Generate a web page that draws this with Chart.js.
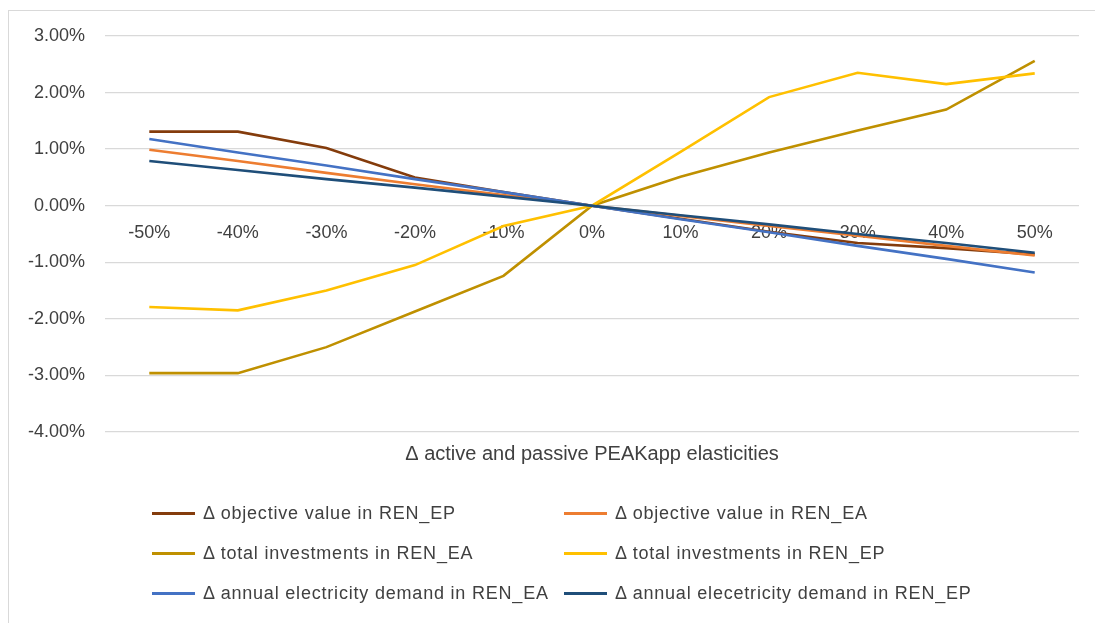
<!DOCTYPE html>
<html>
<head>
<meta charset="utf-8">
<script src="https://cdn.jsdelivr.net/npm/chart.js@4/dist/chart.umd.min.js"></script>
<style>
    body { margin: 0; background: #fff; }
    .wrap { position: relative; width: 1095px; height: 623px; overflow: hidden; background: #fff; }
    .frame { position: absolute; left: 8px; top: 10px; width: 1200px; height: 700px; border: 1px solid #d9d9d9; }
    #chart { position: absolute; left: 0; top: 0; }
    .legend {
        position: absolute; left: 152px; top: 502px;
        display: grid; grid-template-columns: 412px 420px; row-gap: 17px;
        font-family: "Liberation Sans", Arial, sans-serif; font-size: 18px; letter-spacing: 0.8px; color: #404040;
    }
    .legend div { display: flex; align-items: center; height: 23px; white-space: nowrap; }
    .legend span.line { display: inline-block; width: 43px; height: 3px; margin-right: 8px; }
</style>
</head>
<body>
<div class="wrap">
    <div class="frame"></div>
    <canvas id="chart" width="1095" height="623"></canvas>
    <div class="legend" id="legend"></div>
</div>
<script>
// Categories and series (values in %)
const categories = ["-50%", "-40%", "-30%", "-20%", "-10%", "0%", "10%", "20%", "30%", "40%", "50%"];

const objectiveEP = [1.31, 1.31, 1.02, 0.50, 0.24, 0, -0.23, -0.46, -0.66, -0.75, -0.86];
const objectiveEA = [0.99, 0.79, 0.58, 0.38, 0.19, 0, -0.18, -0.36, -0.53, -0.71, -0.88];
const investEA = [-2.96, -2.96, -2.50, -1.87, -1.24, 0, 0.51, 0.94, 1.33, 1.70, 2.56];
const investEP = [-1.79, -1.85, -1.50, -1.05, -0.36, 0, 0.95, 1.92, 2.35, 2.15, 2.34];
const demandEA = [1.18, 0.94, 0.71, 0.47, 0.24, 0, -0.24, -0.47, -0.71, -0.94, -1.18];
const demandEP = [0.79, 0.63, 0.47, 0.32, 0.16, 0, -0.17, -0.33, -0.50, -0.66, -0.83];

const yTicks = [3, 2, 1, 0, -1, -2, -3, -4];

const series = [
    { label: "Δ objective value in REN_EP", data: objectiveEP, color: "#843C0C" },
    { label: "Δ objective value in REN_EA", data: objectiveEA, color: "#ED7D31" },
    { label: "Δ total investments in REN_EA", data: investEA, color: "#BF9000" },
    { label: "Δ total investments in REN_EP", data: investEP, color: "#FFC000" },
    { label: "Δ annual electricity demand in REN_EA", data: demandEA, color: "#4472C4" },
    { label: "Δ annual elecetricity demand in REN_EP", data: demandEP, color: "#1F4E79" }
];

const font = "'Liberation Sans', Arial, sans-serif";
const textColor = "#404040";

const ctx = document.getElementById("chart");

new Chart(ctx, {
    type: "line",
    data: {
        labels: categories,
        datasets: series.map((s, i) => ({
            label: s.label,
            data: s.data,
            borderColor: s.color,
            backgroundColor: s.color,
            borderWidth: 2.6,
            pointRadius: 0,
            tension: 0,
            // first series drawn underneath, like Excel
            order: series.length - i
        }))
    },
    options: {
        responsive: false,
        animation: false,
        layout: {
            padding: { left: 8, top: 36, right: 16, bottom: 153 }
        },
        plugins: {
            legend: { display: false },
            tooltip: { enabled: false }
        },
        scales: {
            x: {
                type: "category",
                offset: true,
                position: { y: 0 },
                grid: { display: false },
                border: { display: false },
                ticks: {
                    padding: 9,
                    color: textColor,
                    font: { family: font, size: 18 },
                    maxRotation: 0
                }
            },
            x2: {
                type: "category",
                labels: categories,
                offset: true,
                position: "bottom",
                grid: { display: false },
                border: { display: false },
                ticks: { display: false },
                title: {
                    display: true,
                    text: "Δ active and passive PEAKapp elasticities",
                    color: textColor,
                    font: { family: font, size: 20 },
                    padding: { top: 2, bottom: 4 }
                }
            },
            y: {
                min: -4,
                max: 3,
                afterBuildTicks: (scale) => {
                    scale.ticks = yTicks.map(v => ({ value: v }));
                },
                grid: { color: "#d9d9d9", lineWidth: 1.3, drawTicks: false },
                border: { display: false },
                ticks: {
                    padding: 20,
                    color: textColor,
                    font: { family: font, size: 18 },
                    callback: (v) => v.toFixed(2) + "%"
                }
            }
        }
    }
});

// Legend (two columns, like the original)
const legend = document.getElementById("legend");
series.forEach(s => {
    const item = document.createElement("div");
    const line = document.createElement("span");
    line.className = "line";
    line.style.background = s.color;
    item.appendChild(line);
    item.appendChild(document.createTextNode(s.label));
    legend.appendChild(item);
});
</script>
</body>
</html>
